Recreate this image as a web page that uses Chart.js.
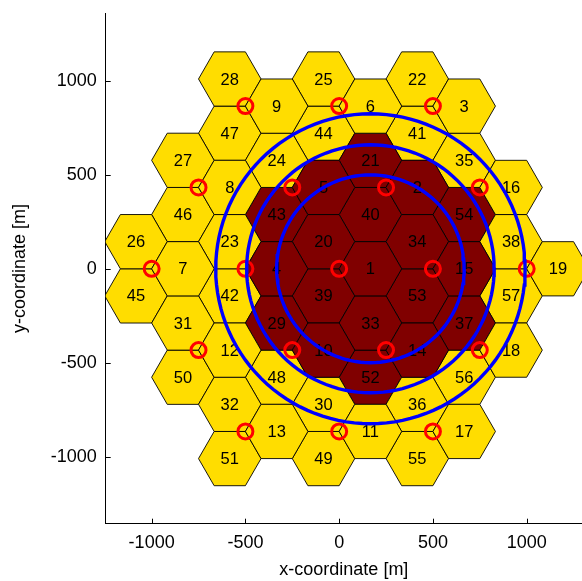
<!DOCTYPE html>
<html>
<head>
<meta charset="utf-8">
<title>Cell layout</title>
<script src="https://cdn.jsdelivr.net/npm/chart.js@4.4.1/dist/chart.umd.min.js"></script>
<style>
  html, body { margin: 0; padding: 0; background: #fff; overflow: hidden; }
  #wrap { width: 582px; height: 581px; }
</style>
</head>
<body>
<div id="wrap"><canvas id="grafico-celulas" width="582" height="581"></canvas></div>
<script>
// site (base station) positions in metres, site n = index n-1
const siteX = [0, 250, 500, -500, -250, 0, -1000, -750, -500, -250, 0, -750, -500, 250, 500, 750, 500, 750, 1000];
const siteY = [0, 433, 866, 0, 433, 866, 0, 433, 866, -433, -866, -433, -866, -433, 0, 433, -866, -433, 0];
// 3 sectors per site: cells 1-19 at 0 deg, 20-38 at 120 deg, 39-57 at 240 deg
const sectorAngles = [0, 120, 240];
const cellRadius = 166.7;
// cells shaded dark red
const innerCells = [1, 2, 4, 5, 10, 14, 15, 20, 21, 29, 33, 34, 37, 39, 40, 43, 52, 53, 54];
// blue contours around cell 1
const contourCell = 1;
const contourRadii = [500, 660, 825];
const xTicks = [-1000, -500, 0, 500, 1000];
const yTicks = [-1000, -500, 0, 500, 1000];

const GOLD = '#FFDD00';
const MAROON = '#800000';
const FONT = 'Liberation Sans, Arial, Helvetica, sans-serif';

function cellCenter(n) {
    const s = (n - 1) % siteX.length;
    const a = sectorAngles[Math.floor((n - 1) / siteX.length)] * Math.PI / 180;
    return { x: siteX[s] + cellRadius * Math.cos(a), y: siteY[s] + cellRadius * Math.sin(a) };
}

function hexagon(c) {
    const pts = [];
    for (let k = 0; k <= 6; k++) {
        const a = k * Math.PI / 3;
        pts.push({ x: c.x + cellRadius * Math.cos(a), y: c.y + cellRadius * Math.sin(a) });
    }
    return pts;
}

const nCells = siteX.length * sectorAngles.length;
const datasets = [];

// hexagon cells
for (let n = 1; n <= nCells; n++) {
    const dark = innerCells.includes(n);
    datasets.push({
        label: 'cell ' + n,
        data: hexagon(cellCenter(n)),
        showLine: true,
        fill: 'shape',
        backgroundColor: dark ? MAROON : GOLD,
        borderColor: '#000',
        borderWidth: 0.9,
        pointRadius: 0,
        tension: 0,
        order: 2
    });
}

// site markers
const redIndex = datasets.length;
datasets.push({
    label: 'sites',
    data: siteX.map((x, i) => ({ x: x, y: siteY[i] })),
    pointStyle: 'circle',
    pointRadius: 7.5,
    pointBorderWidth: 3,
    borderColor: '#FF0000',
    backgroundColor: 'rgba(0,0,0,0)',
    showLine: false,
    order: 1
});

// contours
const cc = cellCenter(contourCell);
contourRadii.forEach(r => {
    const pts = [];
    for (let k = 0; k <= 120; k++) {
        const a = k * 2 * Math.PI / 120;
        pts.push({ x: cc.x + r * Math.cos(a), y: cc.y + r * Math.sin(a) });
    }
    datasets.push({
        label: 'r ' + r,
        data: pts,
        showLine: true,
        fill: false,
        borderColor: '#0000FF',
        borderWidth: 3.4,
        pointRadius: 0,
        tension: 0,
        order: 0
    });
});

// cell numbers, drawn just before the site markers
const cellLabels = {
    id: 'cellLabels',
    beforeDatasetDraw(chart, args) {
        if (args.index !== redIndex) return;
        const { ctx, scales } = chart;
        ctx.save();
        ctx.beginPath();
        ctx.rect(chart.chartArea.left, chart.chartArea.top, chart.chartArea.width, chart.chartArea.height);
        ctx.clip();
        ctx.fillStyle = '#000';
        ctx.font = '16.5px ' + FONT;
        ctx.textAlign = 'center';
        ctx.textBaseline = 'middle';
        for (let n = 1; n <= nCells; n++) {
            const c = cellCenter(n);
            ctx.fillText(String(n), scales.x.getPixelForValue(c.x), scales.y.getPixelForValue(c.y) + 1);
        }
        ctx.restore();
    }
};

// MATLAB style inward tick marks
const inwardTicks = {
    id: 'inwardTicks',
    afterDraw(chart) {
        const { ctx, scales, chartArea } = chart;
        ctx.save();
        ctx.strokeStyle = '#000';
        ctx.lineWidth = 1;
        ctx.beginPath();
        scales.x.ticks.forEach(t => {
            const px = Math.round(scales.x.getPixelForValue(t.value)) + 0.5;
            ctx.moveTo(px, chartArea.bottom);
            ctx.lineTo(px, chartArea.bottom - 5);
        });
        scales.y.ticks.forEach(t => {
            const py = Math.round(scales.y.getPixelForValue(t.value)) + 0.5;
            ctx.moveTo(chartArea.left, py);
            ctx.lineTo(chartArea.left + 5, py);
        });
        ctx.stroke();
        ctx.restore();
    }
};

new Chart(document.getElementById('grafico-celulas').getContext('2d'), {
    type: 'scatter',
    data: { datasets: datasets },
    options: {
        responsive: false,
        animation: false,
        devicePixelRatio: 1,
        layout: { autoPadding: false, padding: { top: 13.3, right: 0, left: 0, bottom: 0 } },
        plugins: { legend: { display: false }, tooltip: { enabled: false } },
        scales: {
            x: {
                type: 'linear',
                min: -1245,
                max: 1295,
                afterBuildTicks: s => { s.ticks = xTicks.map(v => ({ value: v })); },
                afterFit: s => { s.height = 57.3; s.paddingLeft = 0; s.paddingRight = 0; },
                grid: { display: false, drawTicks: false },
                border: { display: true, color: '#000', width: 1 },
                ticks: { callback: v => String(v), color: '#000', font: { family: FONT, size: 18 }, padding: 9, maxRotation: 0 },
                title: { display: true, text: 'x-coordinate [m]', color: '#000', font: { family: FONT, size: 18 }, padding: { top: 0, bottom: 0 } }
            },
            y: {
                type: 'linear',
                min: -1357,
                max: 1360,
                afterBuildTicks: s => { s.ticks = yTicks.map(v => ({ value: v })); },
                afterFit: s => { s.width = 105.7; s.paddingTop = 0; s.paddingBottom = 0; },
                grid: { display: false, drawTicks: false },
                border: { display: true, color: '#000', width: 1 },
                ticks: { callback: v => String(v), color: '#000', font: { family: FONT, size: 18 }, padding: 9 },
                title: { display: true, text: 'y-coordinate [m]', color: '#000', font: { family: FONT, size: 18 }, padding: { top: 9.5, bottom: 0 } }
            }
        }
    },
    plugins: [cellLabels, inwardTicks]
});
</script>
</body>
</html>
